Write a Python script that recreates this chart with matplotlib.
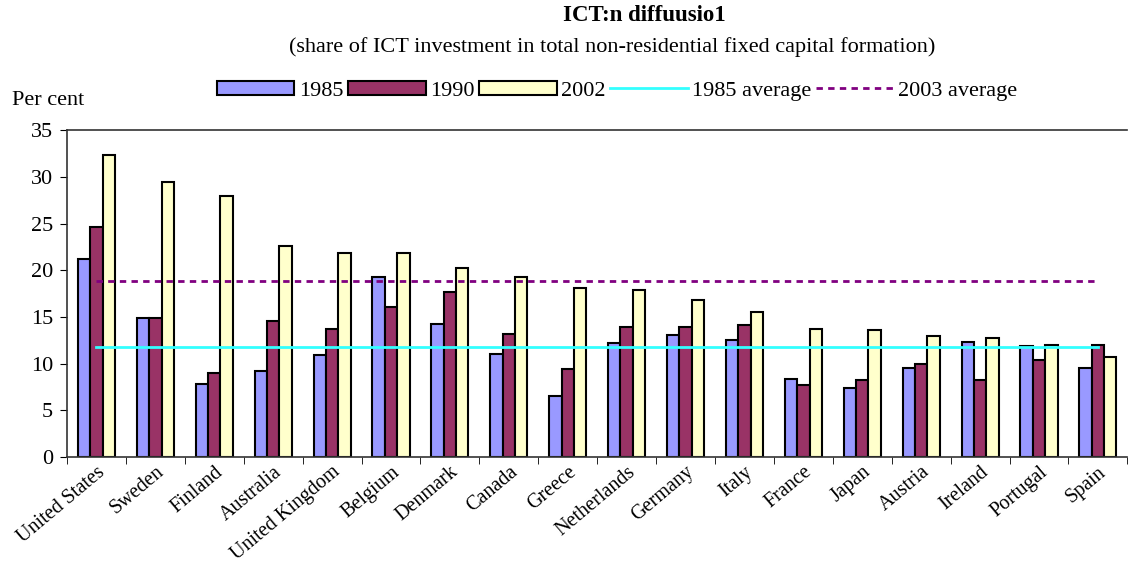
import matplotlib.pyplot as plt
import numpy as np

plt.rcParams['font.family'] = ['Liberation Serif', 'DejaVu Serif']

countries = ['United States', 'Sweden', 'Finland', 'Australia', 'United Kingdom',
             'Belgium', 'Denmark', 'Canada', 'Greece', 'Netherlands', 'Germany',
             'Italy', 'France', 'Japan', 'Austria', 'Ireland', 'Portugal', 'Spain']
y1985 = [21.2, 14.9, 7.8, 9.2, 10.9, 19.3, 14.2, 11.0, 6.5, 12.2, 13.1,
         12.5, 8.4, 7.4, 9.5, 12.3, 11.9, 9.5]
y1990 = [24.7, 14.9, 9.0, 14.6, 13.7, 16.1, 17.7, 13.2, 9.4, 13.9, 13.9,
         14.1, 7.7, 8.2, 10.0, 8.3, 10.4, 12.0]
y2002 = [32.4, 29.5, 28.0, 22.6, 21.9, 21.9, 20.3, 19.3, 18.1, 17.9, 16.8,
         15.5, 13.7, 13.6, 13.0, 12.8, 12.0, 10.7]
avg1985 = 11.8
avg2003 = 18.9

fig = plt.figure(figsize=(11.28, 5.67), dpi=100)
ax = fig.add_axes([0.0594, 0.194, 0.94, 0.576])

x = np.arange(len(countries))
w = 0.21
kw = dict(width=w, edgecolor='black', linewidth=1.5)
b1 = ax.bar(x - w, y1985, color='#9999FF', label='1985', **kw)
b2 = ax.bar(x, y1990, color='#993366', label='1990', **kw)
b3 = ax.bar(x + w, y2002, color='#FFFFCC', label='2002', **kw)
l1, = ax.plot([x[0], x[-1]], [avg1985, avg1985], color='#33FFFF', lw=2, label='1985 average')
l2, = ax.plot([x[0], x[-1]], [avg2003, avg2003], color='#800080', lw=2,
              ls=(0, (2.3, 1.9)), label='2003 average')

ax.set_xlim(-0.5, len(countries) - 0.5)
ax.set_ylim(0, 35)
ax.set_yticks(range(0, 36, 5))
ax.tick_params(axis='y', labelsize=16, length=5, direction='out', pad=5)
ax.set_xticks(x)
ax.set_xticklabels(countries, rotation=40, ha='right', rotation_mode='anchor', fontsize=14.5)
ax.tick_params(axis='x', which='major', length=0, pad=4)
ax.set_xticks(np.arange(-0.5, len(countries), 1), minor=True)
ax.tick_params(axis='x', which='minor', length=5, direction='out')
for s in ['left', 'bottom', 'top']:
    ax.spines[s].set_color('#333333')
    ax.spines[s].set_linewidth(1.2)
ax.spines['right'].set_visible(False)

fig.text(0.571, 0.972, 'ICT:n diffuusio1', ha='center', va='center',
         fontsize=16.5, fontweight='bold')
fig.text(0.543, 0.917, '(share of ICT investment in total non-residential fixed capital formation)',
         ha='center', va='center', fontsize=16)
fig.text(0.011, 0.823, 'Per cent', ha='left', va='center', fontsize=16)

fig.legend([b1, b2, b3, l1, l2], ['1985', '1990', '2002', '1985 average', '2003 average'],
           loc='center', bbox_to_anchor=(0.547, 0.840), ncol=5, frameon=False,
           fontsize=16, handlelength=3.5, handleheight=0.6, handletextpad=0.2,
           columnspacing=0.2, borderpad=0)

fig.savefig('out.png', dpi=100)
